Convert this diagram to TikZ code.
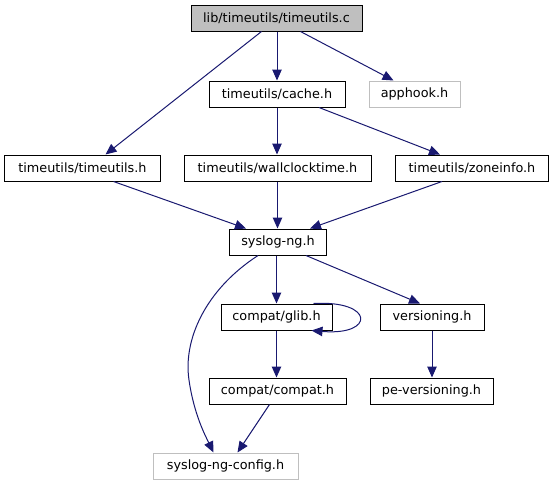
\documentclass[tikz,border=0pt]{standalone}
\usepackage{fontspec}
\setmainfont{DejaVu Sans}
\usetikzlibrary{arrows.meta}
\definecolor{edgeblue}{HTML}{191970}
\definecolor{lgray}{HTML}{BFBFBF}
\begin{document}
\begin{tikzpicture}[x=1pt,y=-1pt,
  box/.style={draw=black, line width=1pt, inner sep=0pt, minimum height=26pt, font=\fontsize{12.8}{14}\selectfont, text=black},
  gbox/.style={box, draw=lgray},
  edge/.style={draw=edgeblue, line width=1pt, -{Triangle[length=11pt,width=9.5pt]}}]
\useasboundingbox (0,0) rectangle (552,485);
\node[box, fill=lgray, minimum width=171pt] (c) at (276.5,18) {lib/timeutils/timeutils.c};
\node[box, minimum width=136pt] (cache) at (277,94) {timeutils/cache.h};
\node[gbox, minimum width=91pt] (app) at (414.5,94) {apphook.h};
\node[box, minimum width=156pt] (tu) at (82.5,168) {timeutils/timeutils.h};
\node[box, minimum width=187pt] (wall) at (277.5,168) {timeutils/wallclocktime.h};
\node[box, minimum width=153pt] (zone) at (472,168) {timeutils/zoneinfo.h};
\node[box, minimum width=97pt] (sys) at (278,242) {syslog-ng.h};
\node[box, minimum width=111pt] (glib) at (276.5,317) {compat/glib.h};
\node[box, minimum width=104pt] (ver) at (432,317) {versioning.h};
\node[box, minimum width=137pt] (compat) at (277.5,391) {compat/compat.h};
\node[box, minimum width=123pt] (pever) at (431.5,391) {pe-versioning.h};
\node[gbox, minimum width=145pt] (cfg) at (225.5,466) {syslog-ng-config.h};

\draw[edge] ([xshift=-15pt]c.south) -- ([xshift=23pt]tu.north);
\draw[edge] (c.south -| cache.north) -- (cache.north);
\draw[edge] ([xshift=24pt]c.south) -- ([xshift=-21pt]app.north);
\draw[edge] (cache.south) -- (cache.south |- wall.north);
\draw[edge] ([xshift=42pt]cache.south) -- ([xshift=-32pt]zone.north);
\draw[edge] ([xshift=31pt]tu.south) -- ([xshift=-32pt]sys.north);
\draw[edge] (wall.south) -- (wall.south |- sys.north);
\draw[edge] ([xshift=-30pt]zone.south) -- ([xshift=32pt]sys.north);
\draw[edge] (sys.south -| glib.north) -- (glib.north);
\draw[edge] ([xshift=28pt]sys.south) -- ([xshift=-12pt]ver.north);
\draw[edge] ([xshift=-20pt]sys.south) .. controls (205,290) and (183,340) .. (189,380) .. controls (194,415) and (206,437) .. ([xshift=-12pt]cfg.north);
\draw[edge] ([xshift=-19pt]glib.north east) .. controls (375,300) and (375,336) .. ([xshift=-21pt]glib.south east);
\draw[edge] (glib.south) -- (glib.south |- compat.north);
\draw[edge] (ver.south) -- (ver.south |- pever.north);
\draw[edge] ([xshift=-8pt]compat.south) -- ([xshift=12pt]cfg.north);
\end{tikzpicture}
\end{document}
